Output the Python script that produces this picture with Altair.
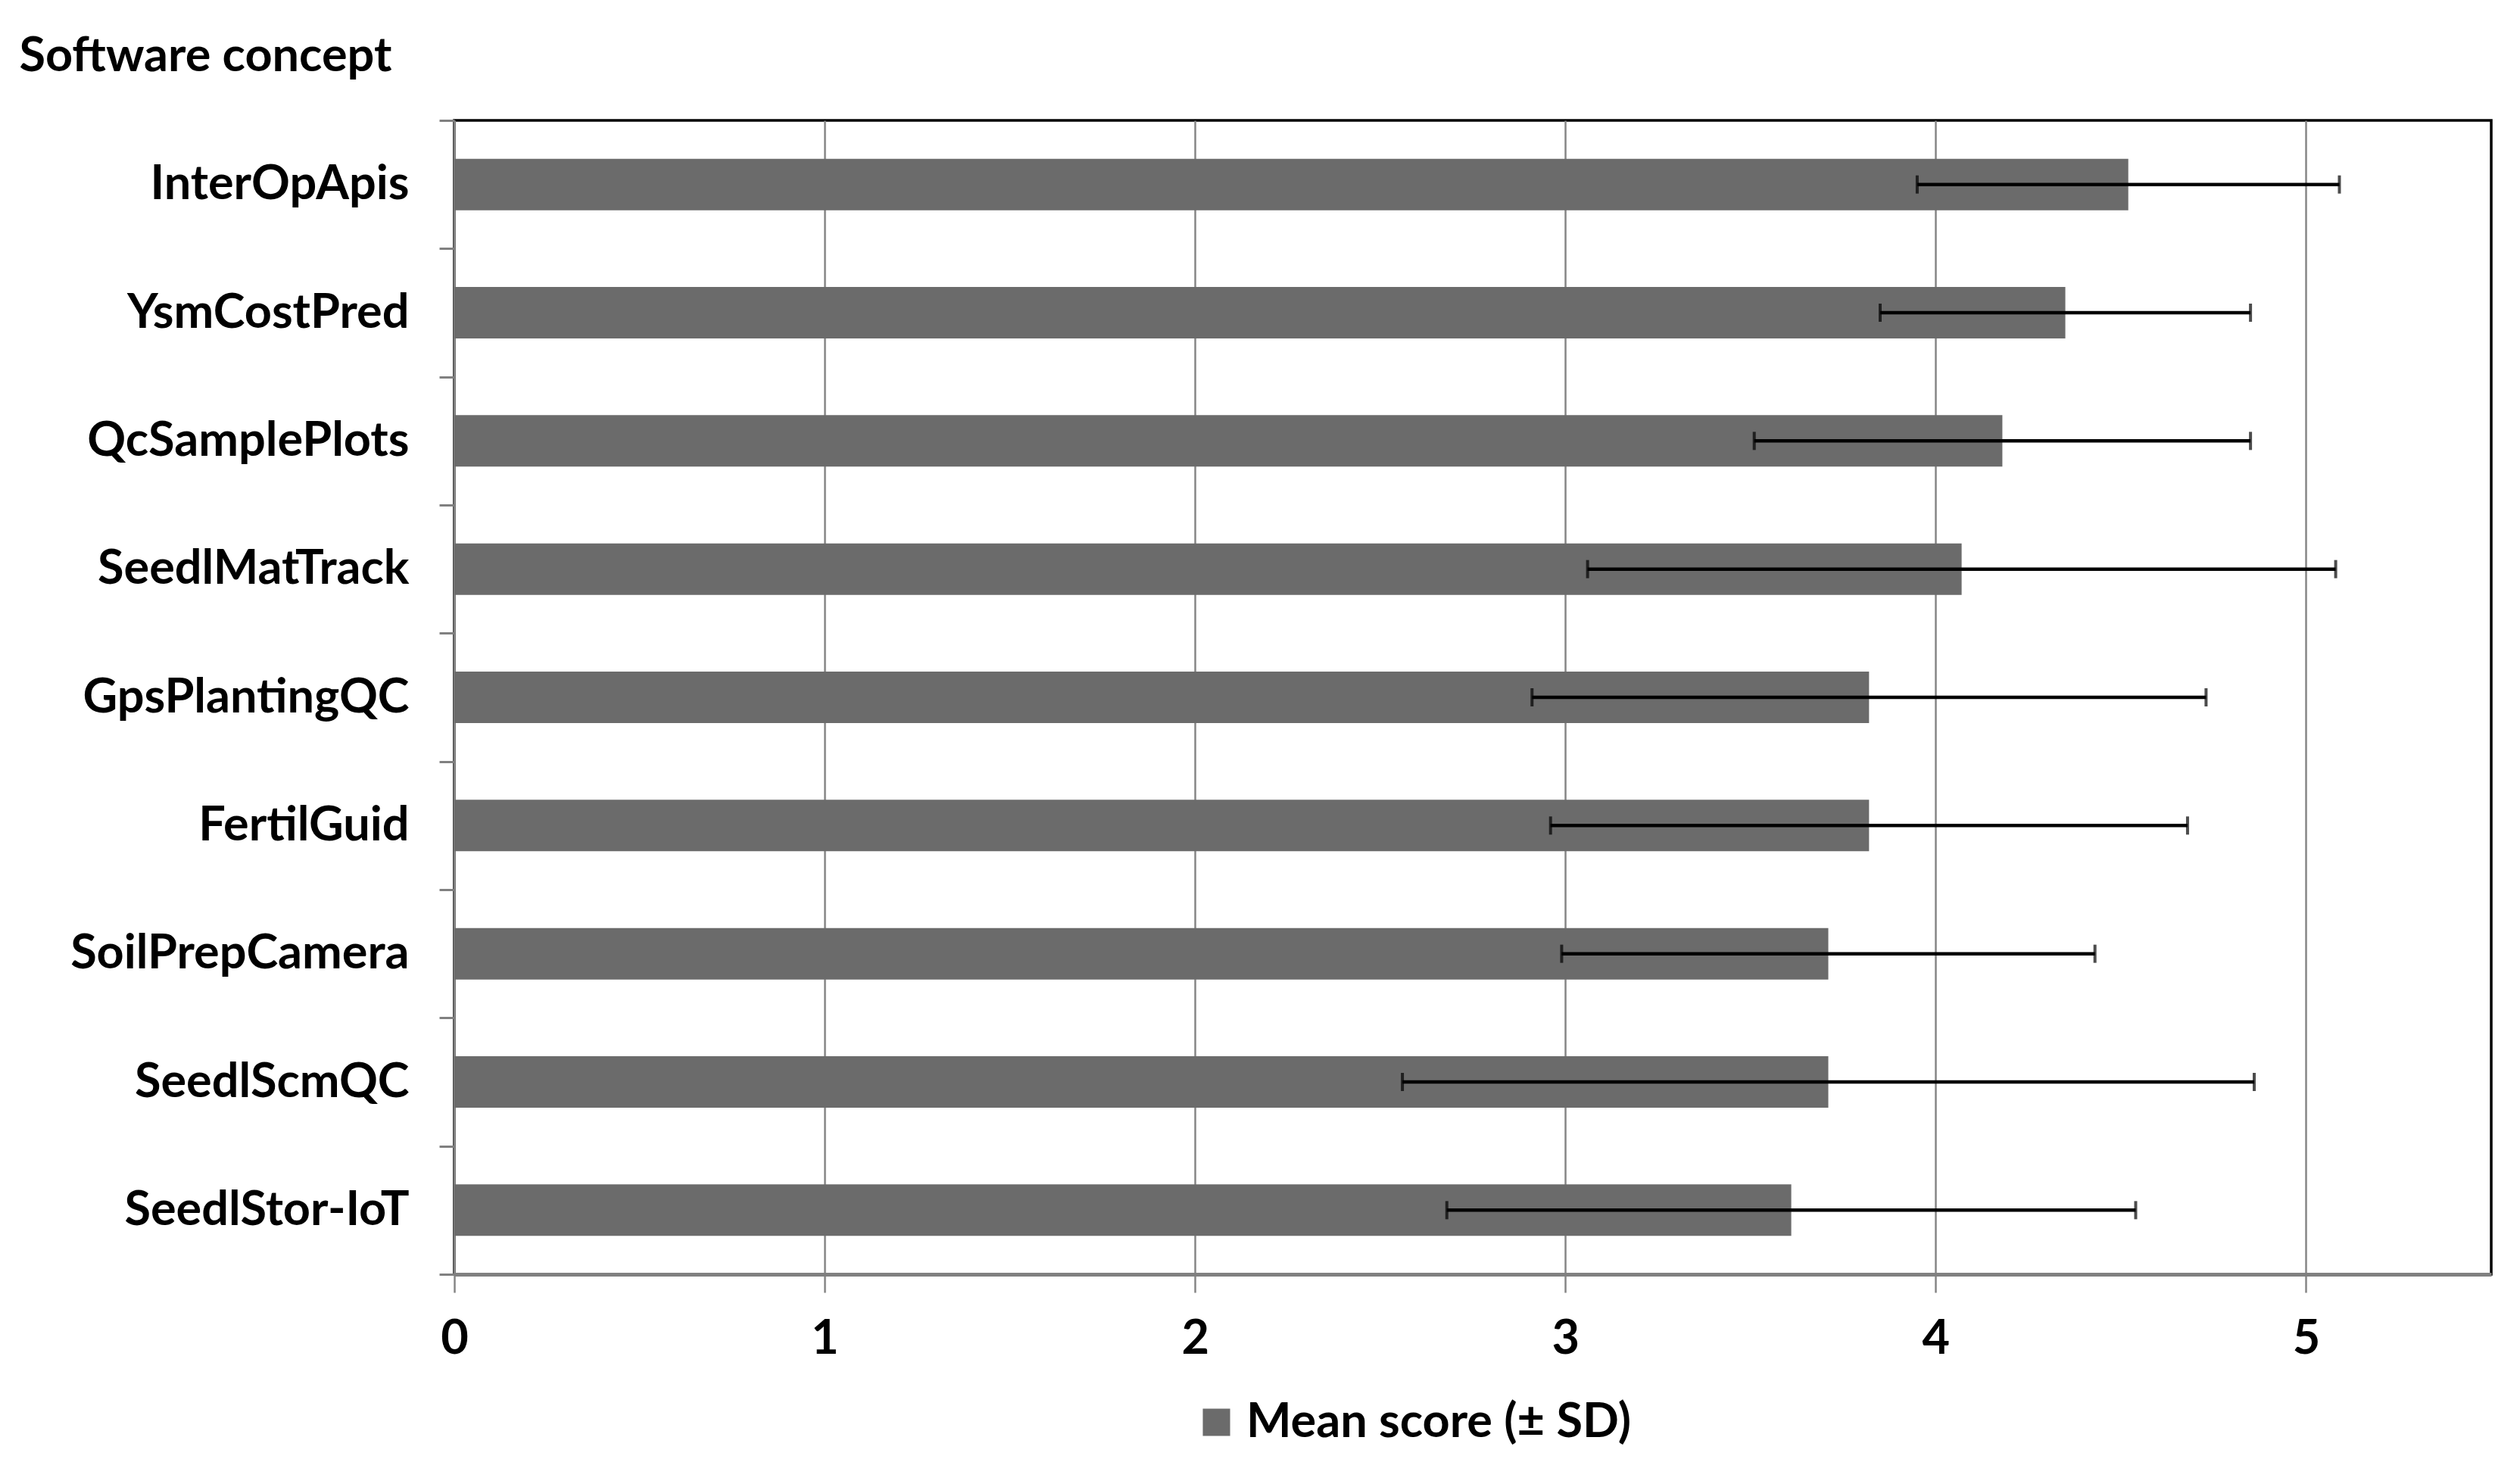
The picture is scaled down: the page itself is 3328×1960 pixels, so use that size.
import altair as alt
import pandas as pd

concepts = ["InterOpApis", "YsmCostPred", "QcSamplePlots", "SeedlMatTrack",
            "GpsPlantingQC", "FertilGuid", "SoilPrepCamera", "SeedlScmQC", "SeedlStor-IoT"]
means = [4.52, 4.35, 4.18, 4.07, 3.82, 3.82, 3.71, 3.71, 3.61]
sds = [0.57, 0.50, 0.67, 1.01, 0.91, 0.86, 0.72, 1.15, 0.93]
x_ticks = [0, 1, 2, 3, 4, 5]
series_name = "Mean score (± SD)"

df = pd.DataFrame({"concept": concepts, "mean": means, "sd": sds})
df["lo"] = df["mean"] - df["sd"]
df["hi"] = df["mean"] + df["sd"]
df["series"] = series_name

FONT = "Lato"
FS = 63
W, H = 2690, 1524
BAR = "#6b6b6b"
GRID = "#868686"

y_axis = alt.Axis(
    title="Software concept", titleAngle=0, titleAlign="left", titleBaseline="middle",
    titleX=-575, titleY=-85, titleFont=FONT, titleFontSize=FS, titleFontWeight="bold",
    titleColor="black",
    labelFont=FONT, labelFontSize=FS, labelFontWeight="bold", labelColor="black",
    labelPadding=40, labelLimit=0, tickBand="extent", tickSize=20, tickWidth=3,
    tickColor="#808080", domainColor="#808080", domainWidth=3, grid=False,
)
x_axis = alt.Axis(
    values=x_ticks, title=None, grid=True, gridColor=GRID, gridWidth=2.5,
    tickSize=24, tickColor=GRID, tickWidth=2.5, domainColor="#808080", domainWidth=5,
    labelFont=FONT, labelFontSize=FS, labelFontWeight="bold", labelColor="black",
    labelPadding=30, labelFlush=False, format="d",
)
x_scale = alt.Scale(domain=[0, 5.5], nice=False, zero=True)

base = alt.Chart(df)

bars = base.mark_bar(size=68).encode(
    x=alt.X("mean:Q", scale=x_scale, axis=x_axis),
    y=alt.Y("concept:N", sort=concepts,
            scale=alt.Scale(paddingInner=0, paddingOuter=0), axis=y_axis),
    color=alt.Color("series:N", scale=alt.Scale(range=[BAR]),
                    legend=alt.Legend(title=None, orient="none", legendX=975, legendY=1688,
                                      symbolType="square", symbolSize=1300,
                                      symbolStrokeWidth=0, labelFont=FONT,
                                      labelFontSize=FS, labelFontWeight="bold",
                                      labelColor="black", labelLimit=0, padding=0,
                                      labelOffset=8)),
)

err = base.mark_rule(color="black", strokeWidth=4.5).encode(
    x="lo:Q", x2="hi:Q", y=alt.Y("concept:N", sort=concepts)
)
cap_lo = base.mark_tick(color="black", thickness=4, size=24).encode(
    x="lo:Q", y=alt.Y("concept:N", sort=concepts)
)
cap_hi = base.mark_tick(color="black", thickness=4, size=24).encode(
    x="hi:Q", y=alt.Y("concept:N", sort=concepts)
)

chart = alt.layer(bars, err, cap_lo, cap_hi).properties(
    width=W, height=H,
    padding={"left": 592, "top": 151, "right": 30, "bottom": 268},
    autosize=alt.AutoSizeParams(type="none"),
).configure(background="white").configure_view(stroke="black", strokeWidth=3.5)

chart.save("out.html", embed_options={"renderer": "svg", "actions": False})
